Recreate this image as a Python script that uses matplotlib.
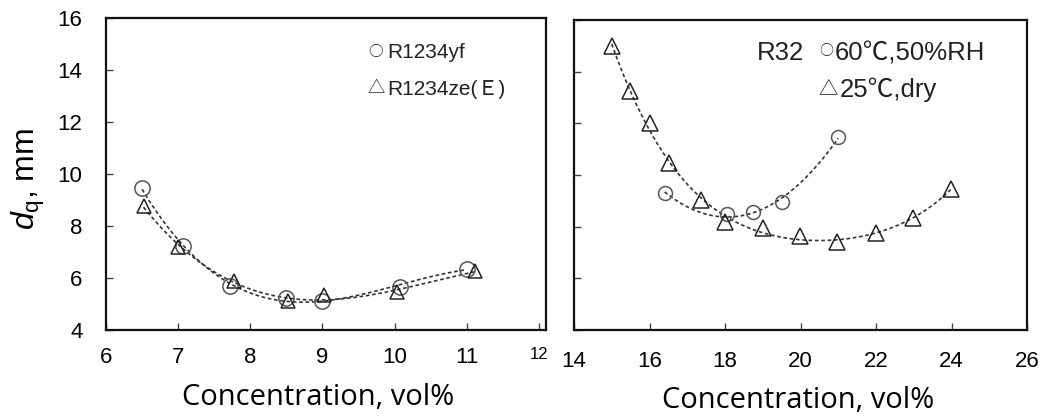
import numpy as np
import matplotlib
matplotlib.use('Agg')
import matplotlib.pyplot as plt

plt.rcParams['font.family'] = ['Liberation Sans', 'Noto Sans CJK JP', 'DejaVu Sans']
plt.rcParams['mathtext.fontset'] = 'custom'
plt.rcParams['mathtext.rm'] = 'Liberation Sans'
plt.rcParams['mathtext.it'] = 'Liberation Sans:italic'

# left panel: R1234yf / R1234ze(E)
yf_x = [6.5, 7.07, 7.72, 8.5, 9.0, 10.07, 11.0]
yf_y = [9.45, 7.22, 5.68, 5.25, 5.12, 5.65, 6.35]
ze_x = [6.52, 7.0, 7.78, 8.52, 9.02, 10.03, 11.12]
ze_y = [8.78, 7.18, 5.9, 5.1, 5.33, 5.45, 6.27]

# right panel: R32
wet_x = [16.4, 18.04, 18.74, 19.52, 21.0]
wet_y = [9.3, 8.5, 8.58, 8.94, 11.48]
dry_x = [15.0, 15.48, 16.01, 16.52, 17.36, 18.0, 19.0, 19.98, 20.98, 22.0, 22.97, 23.98]
dry_y = [15.0, 13.25, 12.0, 10.45, 9.05, 8.17, 7.94, 7.62, 7.4, 7.75, 8.32, 9.45]

W, H = 1051, 419
fig = plt.figure(figsize=(W / 100, H / 100), dpi=100)
ax1 = fig.add_axes([106 / W, 1 - 330 / H, 440 / W, 312 / H])
ax2 = fig.add_axes([574 / W, 1 - 330 / H, 453 / W, 310 / H])

dash = (0, (2.2, 1.6))
line_c = '#333333'


def trend(ax, x, y, deg):
    c = np.polyfit(x, y, deg)
    xs = np.linspace(min(x), max(x), 200)
    ax.plot(xs, np.polyval(c, xs), color=line_c, lw=1.2, ls=dash, zorder=2)


trend(ax1, yf_x, yf_y, 3)
trend(ax1, ze_x, ze_y, 3)
ax1.plot(yf_x, yf_y, 'o', ms=11, mfc='none', mec='#555555', mew=1.1, zorder=3)
ax1.plot(ze_x, ze_y, '^', ms=10, mfc='none', mec='#222222', mew=1.1, zorder=3)

trend(ax2, wet_x, wet_y, 2)
trend(ax2, dry_x, dry_y, 4)
ax2.plot(wet_x, wet_y, 'o', ms=10, mfc='none', mec='#555555', mew=1.1, zorder=3)
ax2.plot(dry_x, dry_y, '^', ms=12, mfc='none', mec='#222222', mew=1.1, zorder=3)

for ax in (ax1, ax2):
    ax.set_ylim(4, 16)
    ax.set_yticks(range(4, 17, 2))
    ax.tick_params(direction='in', length=5, width=1, labelsize=16, color='#444444')
    for s in ax.spines.values():
        s.set_linewidth(1.6)
        s.set_color('#111111')

ax1.set_xlim(6, 12.1)
ax1.set_xticks(range(6, 13))
ax1.tick_params(axis='y', pad=17)
ax1.tick_params(axis='x', pad=12.5)
ax1.get_xticklabels()[-1].set_fontsize(12)

ax2.set_xlim(14, 26)
ax2.set_xticks(range(14, 27, 2))
ax2.tick_params(axis='x', pad=15)
ax2.set_yticklabels([])

fig.text(28 / W, 1 - 179 / H, r'$d_\mathregular{q}$, mm', fontsize=23,
         rotation=90, ha='center', va='center')

xlab_font = ['Open Sans', 'DejaVu Sans']
fig.text(318 / W, 1 - 397 / H, 'Concentration, vol%', family=xlab_font,
         fontsize=21, ha='center', va='center')
fig.text(798 / W, 1 - 400 / H, 'Concentration, vol%', family=xlab_font,
         fontsize=21, ha='center', va='center')

# legend-like labels
sym = ['Noto Sans CJK JP']
tc = '#222222'
fig.text(376 / W, 1 - 52 / H, '○', family=sym, fontsize=10.5, ha='center', va='center', color=tc)
fig.text(387 / W, 1 - 58 / H, 'R1234yf', fontsize=15, ha='left', va='baseline', color=tc)
fig.text(376 / W, 1 - 88 / H, '△', family=sym, fontsize=12.5, ha='center', va='center', color=tc)
fig.text(387 / W, 1 - 95 / H, 'R1234ze(Ｅ)', fontsize=15, ha='left', va='baseline', color=tc)

fig.text(757 / W, 1 - 60 / H, 'R32', fontsize=18.5, ha='left', va='baseline', color=tc)
fig.text(826 / W, 1 - 51 / H, '○', family=sym, fontsize=10, ha='center', va='center', color=tc)
fig.text(835 / W, 1 - 60 / H, '60℃,50%RH', fontsize=18.5, ha='left', va='baseline', color=tc)
fig.text(828 / W, 1 - 89 / H, '△', family=sym, fontsize=14, ha='center', va='center', color=tc)
fig.text(840 / W, 1 - 97 / H, '25℃,dry', fontsize=18.5, ha='left', va='baseline', color=tc)

fig.savefig('out.png', dpi=100)
